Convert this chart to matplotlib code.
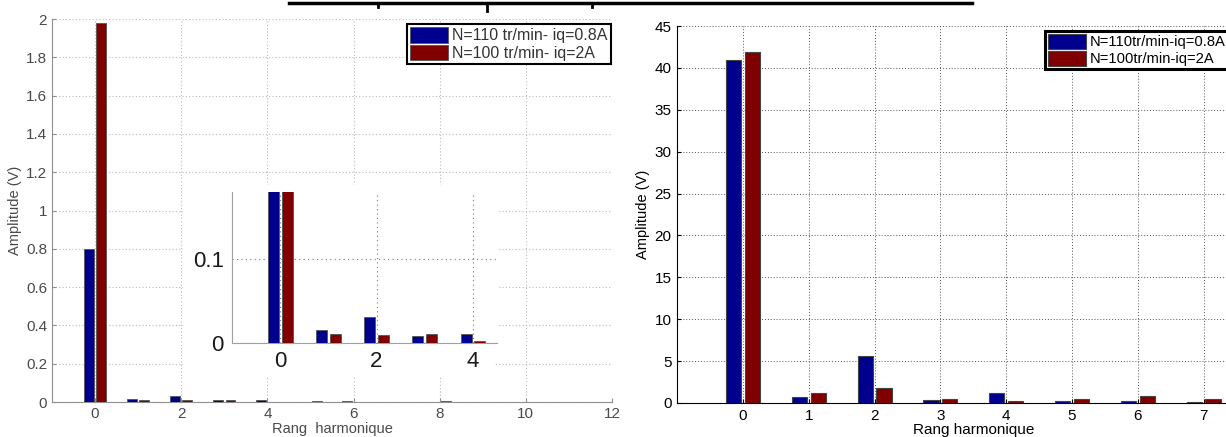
import numpy as np
import matplotlib
matplotlib.use("Agg")
import matplotlib.pyplot as plt
from matplotlib.lines import Line2D
from matplotlib.patches import Rectangle
from matplotlib.ticker import FuncFormatter

plt.rcParams['font.family'] = ['Liberation Sans', 'DejaVu Sans']

# ----- Data -----
# left panel (and inset): harmonics 0..12
harm_left = np.arange(13)
amp_left_110 = [0.80, 0.015, 0.031, 0.008, 0.010, 0.002, 0.003, 0.002, 0.002, 0.002, 0.002, 0.002, 0.002]
amp_left_100 = [1.98, 0.010, 0.009, 0.010, 0.002, 0.003, 0.002, 0.002, 0.003, 0.002, 0.002, 0.002, 0.002]
labels_left = ["N=110 tr/min- iq=0.8A", "N=100 tr/min- iq=2A"]

# right panel: harmonics 0..7
harm_right = np.arange(8)
amp_right_110 = [41.0, 0.72, 5.6, 0.32, 1.16, 0.24, 0.24, 0.16]
amp_right_100 = [41.9, 1.16, 1.84, 0.48, 0.24, 0.48, 0.88, 0.48]
labels_right = ["N=110tr/min-iq=0.8A", "N=100tr/min-iq=2A"]

blue = "#00008F"
red = "#800000"
W, H = 1226, 437

# MATLAB-style grouped bars: offset +-0.143, width 0.229
off, bw = 0.143, 0.229

def grouped(ax, x, a, b, ec, lw):
    x = np.asarray(x)
    h1 = ax.bar(x - off, a, bw, color=blue, edgecolor=ec, linewidth=lw, zorder=3)
    h2 = ax.bar(x + off, b, bw, color=red, edgecolor=ec, linewidth=lw, zorder=3)
    return h1, h2

def fx(px):
    return px / W

def fy(py):
    return 1 - py / H

fig = plt.figure(figsize=(W / 100, H / 100), dpi=100)

matlab_fmt = FuncFormatter(lambda v, p: f"{v:g}")

# ----- left main axes -----
gray_txt = "#4a4a4a"
axL = fig.add_axes([fx(52), fy(402), fx(612 - 52), (402 - 19) / H])
h1, h2 = grouped(axL, harm_left, amp_left_110, amp_left_100, "#555555", 0.6)
axL.set_xlim(-1, 12)
axL.set_ylim(0, 2)
axL.set_xticks(np.arange(0, 13, 2))
axL.set_yticks(np.arange(0, 2.01, 0.2))
axL.yaxis.set_major_formatter(matlab_fmt)
axL.grid(True, linestyle=(0, (1, 2)), color="#b8b8b8", linewidth=0.8, zorder=0)
for s in ["top", "right"]:
    axL.spines[s].set_visible(False)
for s in ["left", "bottom"]:
    axL.spines[s].set_color("#909090")
axL.tick_params(direction="in", length=3, colors="#909090", labelcolor=gray_txt, labelsize=11)
axL.set_xlabel("Rang  harmonique", fontsize=10.5, color=gray_txt, labelpad=1)
axL.set_ylabel("Amplitude (V)", fontsize=10.5, color=gray_txt, labelpad=3)
legL = axL.legend([h1, h2], labels_left, loc="upper right",
                  bbox_to_anchor=(fx(611), fy(24)), bbox_transform=fig.transFigure,
                  fontsize=11.5, fancybox=False, framealpha=1, edgecolor="black",
                  handlelength=2.4, handleheight=1.1, handletextpad=0.25,
                  borderpad=0.2, labelspacing=0.1, borderaxespad=0)
legL.get_frame().set_linewidth(1.5)
for t in legL.get_texts():
    t.set_color("#333333")

# white patch behind the inset (covers main grid)
fig.add_artist(Rectangle((fx(183), fy(377)), fx(495 - 183), (377 - 185) / H,
                         transform=fig.transFigure, facecolor="white", edgecolor="none", zorder=5))

# ----- inset -----
axI = fig.add_axes([fx(232), fy(342.7), fx(497 - 232), (342.7 - 191.7) / H], zorder=6)
grouped(axI, harm_left, amp_left_110, amp_left_100, "#555555", 0.6)
axI.set_xlim(-1, 4.5)
axI.set_ylim(0, 0.181)
axI.set_xticks([0, 2, 4])
axI.set_yticks([0, 0.1])
axI.yaxis.set_major_formatter(matlab_fmt)
axI.grid(True, linestyle=(0, (1, 3)), color="#777777", linewidth=0.8, zorder=0)
for s in ["top", "right"]:
    axI.spines[s].set_visible(False)
for s in ["left", "bottom"]:
    axI.spines[s].set_color("#a0a0a0")
axI.tick_params(direction="in", length=0, labelcolor="#1a1a1a", labelsize=16, pad=6)

# ----- right axes -----
x0R = 743 - 65.8
axR = fig.add_axes([fx(x0R), fy(403), fx(9 * 65.8), (403 - 26) / H])
r1, r2 = grouped(axR, harm_right, amp_right_110, amp_right_100, "#444444", 0.8)
axR.set_xlim(-1, 8)
axR.set_ylim(0, 45)
axR.set_xticks(np.arange(0, 8))
axR.set_yticks(np.arange(0, 46, 5))
axR.grid(True, linestyle=(0, (1, 2)), color="#555555", linewidth=0.7, zorder=0)
for s in ["top", "right"]:
    axR.spines[s].set_visible(False)
axR.tick_params(direction="in", length=3, labelsize=11, pad=4)
axR.set_xlabel("Rang harmonique", fontsize=11, labelpad=0)
axR.set_ylabel("Amplitude (V)", fontsize=10.5, labelpad=3)
legR = axR.legend([r1, r2], labels_right, loc="upper left",
                  bbox_to_anchor=(fx(1045), fy(31)), bbox_transform=fig.transFigure,
                  fontsize=10.6, fancybox=False, framealpha=1, edgecolor="black",
                  handlelength=2.6, handleheight=1.2, handletextpad=0.25,
                  borderpad=0.2, labelspacing=0.1, borderaxespad=0)
legR.get_frame().set_linewidth(2.2)

# ----- cut-off title underline at the top -----
fig.add_artist(Line2D([fx(289), fx(972)], [fy(3), fy(3)], color="black", linewidth=2.5))
for px, ln in [(378, 7), (487, 11), (592, 7)]:
    fig.add_artist(Line2D([fx(px), fx(px)], [fy(3), fy(ln)], color="black", linewidth=2))

fig.savefig("out.png", dpi=100)
